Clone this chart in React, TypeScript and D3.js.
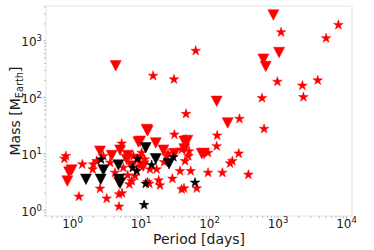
import React from 'react';
import * as d3 from 'd3';

// period [days], mass [M_earth]
const redTriP = [855, 1035, 611, 661, 4.27, 127, 184, 12.1, 12.5, 76.9, 83.1, 0.84, 0.89, 0.97, 2.52, 3.73, 4.94, 6.39, 9.15, 16.4, 21.2, 30.7, 42.9, 47.5, 42.9, 4.77, 6.18, 7.31, 9.15, 10.8, 9.67];
const redTriM = [2876, 622, 475, 352, 362, 85, 35.2, 26.9, 25.5, 10.1, 10.1, 3.29, 4.75, 5.15, 11.1, 9.35, 11.6, 9.35, 16.1, 15.6, 11.6, 10.1, 16.7, 17.2, 12.2, 3.16, 7.94, 6.06, 7.94, 6.06, 16.7];

const blackTriP = [1.57, 2.58, 2.82, 4.67, 4.77, 4.94, 11.7, 16.4, 25.6];
const blackTriM = [3.52, 3.52, 5.15, 6.31, 3.52, 2.99, 12.8, 8.16, 6.66];

const blackStarP = [11.1, 11.7, 61.4, 2.61, 8.84, 7.56, 8.64, 14.3, 29.7];
const blackStarM = [1.24, 2.95, 3.08, 7.94, 8.16, 5.66, 4.94, 6.31, 8.73];

const redStarP = [7600, 5019, 1107, 3794, 2265, 2343, 977, 583, 625, 62.8, 15.0, 30.3, 45.4, 273, 129, 127, 267, 95.1, 154, 95.1, 369, 215, 199, 30.7, 44.9,
  0.76, 0.8, 1.39, 1.24, 2.01, 2.52, 3.15, 4.77, 5.28, 4.77, 6.39, 8.17, 12.4, 13.2, 18.1, 18.9, 28.7, 39.2, 42.4, 65.0, 53.1, 37.1, 50.2, 43.9, 49.1, 39.2,
  23.7, 16.9, 13.5, 9.67, 7.73, 4.17, 3.53, 2.82, 2.25, 1.97, 5.22, 5.52, 6.76, 7.31, 11.3, 10.2, 21.7, 24.8];
const redStarM = [1915, 1114, 1422, 200, 161, 101, 189, 97, 27.6, 666, 241, 208, 50.8, 41.5, 21.1, 13.6, 10.1, 10.4, 4.62, 4.62, 4.26, 7.43, 6.75, 21.9, 17.9,
  8.16, 9.1, 6.48, 1.74, 6.48, 2.41, 1.61, 1.16, 2.0, 1.92, 4.15, 4.04, 3.16, 2.95, 3.38, 2.76, 3.62, 2.35, 2.44, 2.44, 4.94, 4.94, 11.1, 7.43, 9.1, 11.9,
  9.1, 5.29, 5.29, 6.06, 9.1, 4.62, 6.94, 9.1, 7.43, 5.29, 15.2, 5.66, 2.88, 3.29, 7.94, 10.4, 7.13, 10.1];

const xMajor = [0, 1, 2, 3, 4];
const yMajor = [0, 1, 2, 3];

const W = 374;
const H = 250;
const left = 46, right = 352, top = 6, bottom = 216;

const starPath = (r: number) => {
  const pts: string[] = [];
  for (let i = 0; i < 10; i++) {
    const rr = i % 2 === 0 ? r : r * 0.382;
    const a = -Math.PI / 2 + (i * Math.PI) / 5;
    pts.push(`${(rr * Math.cos(a)).toFixed(2)},${(rr * Math.sin(a)).toFixed(2)}`);
  }
  return 'M' + pts.join('L') + 'Z';
};

const triPath = (w: number, h: number) => `M${-w / 2},${-h / 2}L${w / 2},${-h / 2}L0,${h / 2}Z`;

const App = () => {
  const x = d3.scaleLog().domain([0.41, 12000]).range([left, right]);
  const y = d3.scaleLog().domain([0.79, 4150]).range([bottom, top]);

  const minorX: number[] = [];
  for (let e = -1; e <= 4; e++) for (let k = 2; k <= 9; k++) {
    const v = k * Math.pow(10, e);
    if (v >= x.domain()[0] && v <= x.domain()[1]) minorX.push(v);
  }
  const minorY: number[] = [];
  for (let e = -1; e <= 3; e++) for (let k = 2; k <= 9; k++) {
    const v = k * Math.pow(10, e);
    if (v >= y.domain()[0] && v <= y.domain()[1]) minorY.push(v);
  }

  const star = starPath(5.1);
  const tri = triPath(11, 10.5);
  const font = 'DejaVu Sans, sans-serif';

  return (
    <svg width={W} height={H} style={{ position: 'absolute', left: 0, top: 0 }} fontFamily={font}>
      <rect x={0} y={0} width={W} height={H} fill="#fff" />
      <rect x={left} y={top} width={right - left} height={bottom - top} fill="none" stroke="#e3e3e3" strokeWidth={1} />

      {minorX.map((v, i) => (
        <line key={'mx' + i} x1={x(v)} x2={x(v)} y1={bottom} y2={bottom + 2} stroke="#b0b0b0" strokeWidth={0.8} />
      ))}
      {minorY.map((v, i) => (
        <line key={'my' + i} x1={left - 2} x2={left} y1={y(v)} y2={y(v)} stroke="#b0b0b0" strokeWidth={0.8} />
      ))}
      {xMajor.map((e) => (
        <g key={'xt' + e}>
          <line x1={x(Math.pow(10, e))} x2={x(Math.pow(10, e))} y1={bottom} y2={bottom + 3.5} stroke="#b0b0b0" strokeWidth={0.8} />
          <text x={x(Math.pow(10, e))} y={228} textAnchor="middle" fontSize={12} fill="#1a1a1a">
            10<tspan fontSize={8.5} dy={-5}>{e}</tspan>
          </text>
        </g>
      ))}
      {yMajor.map((e) => (
        <g key={'yt' + e}>
          <line x1={left - 3.5} x2={left} y1={y(Math.pow(10, e))} y2={y(Math.pow(10, e))} stroke="#b0b0b0" strokeWidth={0.8} />
          <text x={42} y={y(Math.pow(10, e)) + 5.5} textAnchor="end" fontSize={12} fill="#1a1a1a">
            10<tspan fontSize={8.5} dy={-5}>{e}</tspan>
          </text>
        </g>
      ))}

      {redTriP.map((p, i) => (
        <path key={'rt' + i} d={tri} transform={`translate(${x(p)},${y(redTriM[i])})`} fill="#ff0000" stroke="#ff0000" strokeWidth={0.5} />
      ))}
      {redStarP.map((p, i) => (
        <path key={'rs' + i} d={star} transform={`translate(${x(p)},${y(redStarM[i])})`} fill="#ff0000" stroke="#ff0000" strokeWidth={0.5} />
      ))}
      {blackTriP.map((p, i) => (
        <path key={'bt' + i} d={tri} transform={`translate(${x(p)},${y(blackTriM[i])})`} fill="#000" stroke="#000" strokeWidth={0.5} />
      ))}
      {blackStarP.map((p, i) => (
        <path key={'bs' + i} d={star} transform={`translate(${x(p)},${y(blackStarM[i])})`} fill="#000" stroke="#000" strokeWidth={0.5} />
      ))}

      <text x={(left + right) / 2} y={244} textAnchor="middle" fontSize={14} fill="#1a1a1a">Period [days]</text>
      <text transform={`translate(20,${(top + bottom) / 2}) rotate(-90)`} textAnchor="middle" fontSize={14} fill="#1a1a1a">
        Mass [M<tspan fontSize={9.8} dy={3}>Earth</tspan><tspan dy={-3}>]</tspan>
      </text>
    </svg>
  );
};

export default App;
